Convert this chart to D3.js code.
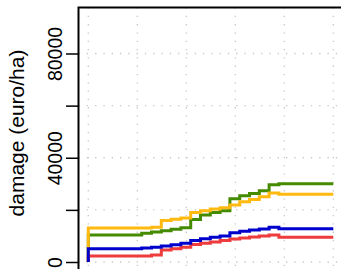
<!DOCTYPE html>
<html>
<head>
<meta charset="utf-8">
<script src="https://cdn.jsdelivr.net/npm/d3@7"></script>
<style>
  body { margin: 0; background: #fff; }
  svg { display: block; font-family: "Liberation Sans", Arial, sans-serif; }
</style>
</head>
<body>
<div id="chart"></div>
<script>
// step start positions (x units), the last segment runs to xEnd
const steps = [0, 5.45, 6.45, 7.45, 8.45, 9.45, 10.45, 11.45, 12.45, 13.45, 14.45, 15.45, 16.45, 17.45, 18.45, 19.45]
const xEnd = 25

const green = [10400, 11000, 11500, 12000, 12600, 13100, 16300, 18000, 19000, 19700, 24300, 25400, 26300, 27300, 29600, 30000]
const yellow = [13000, 13000, 13350, 15900, 16400, 16900, 19000, 19700, 20300, 20800, 21900, 23100, 24000, 25000, 26500, 26000]
const red = [2300, 2300, 2700, 4600, 5100, 5650, 6700, 7200, 7700, 8250, 8850, 9200, 9600, 10000, 10400, 9500]
const blue = [5100, 5400, 5650, 6150, 6650, 7200, 8250, 8950, 9500, 10000, 11250, 11800, 12300, 12700, 13350, 12800]

const yTicks = [0, 20000, 40000, 60000, 80000]
const yLabels = [0, 40000, 80000]
const xGrid = [0, 5, 10, 15, 20, 25]

const series = [
  { values: green, color: '#458B00' },
  { values: yellow, color: '#FFB90F' },
  { values: red, color: '#EE3B3B' },
  { values: blue, color: '#0000CD' }
]

const width = 341, height = 269

const svg = d3.select('#chart').append('svg')
  .attr('width', width)
  .attr('height', height)

const x = d3.scaleLinear().domain([0, xEnd]).range([88.3, 333.3])
const y = d3.scaleLinear().domain([0, 80000]).range([262, 53.5])

const plotLeft = 78.5, plotTop = 7.5

// dotted grid
svg.append('g')
  .selectAll('line')
  .data(xGrid)
  .enter()
  .append('line')
  .attr('x1', d => x(d)).attr('x2', d => x(d))
  .attr('y1', plotTop).attr('y2', height)
  .attr('stroke', '#c8c8c8')
  .attr('stroke-width', 1.3)
  .attr('stroke-dasharray', '1.3,7')

svg.append('g')
  .selectAll('line')
  .data(yTicks)
  .enter()
  .append('line')
  .attr('x1', plotLeft).attr('x2', width)
  .attr('y1', d => y(d)).attr('y2', d => y(d))
  .attr('stroke', '#c8c8c8')
  .attr('stroke-width', 1.3)
  .attr('stroke-dasharray', '1.3,7')

// step lines, each starting from zero at the first x
const line = d3.line()
  .x(d => x(d[0]))
  .y(d => y(d[1]))
  .curve(d3.curveStepAfter)

series.forEach(function (s) {
  const pts = [[steps[0], 0]]
  s.values.forEach((v, i) => pts.push([steps[i], v]))
  pts.push([xEnd, s.values[s.values.length - 1]])
  svg.append('path')
    .attr('d', line(pts))
    .attr('fill', 'none')
    .attr('stroke', s.color)
    .attr('stroke-width', 3)
})

// box
svg.append('rect')
  .attr('x', plotLeft).attr('y', plotTop)
  .attr('width', 400).attr('height', 400)
  .attr('fill', 'none')
  .attr('stroke', '#000')
  .attr('stroke-width', 2)

// y axis
const axis = svg.append('g')
  .attr('transform', 'translate(' + plotLeft + ',0)')
  .call(d3.axisLeft(y)
    .tickValues(yTicks)
    .tickSize(12.5)
    .tickPadding(4)
    .tickFormat(d => yLabels.includes(d) ? d : ''))

axis.select('.domain').remove()
axis.selectAll('.tick line').attr('stroke', '#000').attr('stroke-width', 1.5)
axis.selectAll('.tick text')
  .attr('transform', 'rotate(-90)')
  .attr('x', 0)
  .attr('y', -16.5)
  .attr('dy', 0)
  .attr('text-anchor', 'middle')
  .attr('fill', '#000')
  .style('font-size', '19.5px')
  .style('font-family', '"Liberation Sans", Arial, sans-serif')

svg.append('text')
  .attr('transform', 'translate(23.5,133)rotate(-90)')
  .attr('text-anchor', 'middle')
  .style('font-size', '21px')
  .text('damage (euro/ha)')
</script>
</body>
</html>
